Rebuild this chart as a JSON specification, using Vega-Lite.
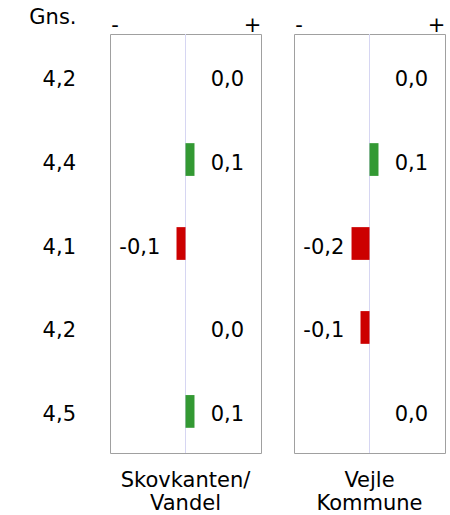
{
  "$schema": "https://vega.github.io/schema/vega-lite/v6.json",
  "padding": {"left": 0, "top": 6, "right": 0, "bottom": 0},
  "background": "white",
  "datasets": {
    "rows": [
      {"group": "Skovkanten/Vandel", "q": 1, "gns": "4,2", "value": 0.0, "label": "0,0"},
      {"group": "Skovkanten/Vandel", "q": 2, "gns": "4,4", "value": 0.1, "label": "0,1"},
      {"group": "Skovkanten/Vandel", "q": 3, "gns": "4,1", "value": -0.1, "label": "-0,1"},
      {"group": "Skovkanten/Vandel", "q": 4, "gns": "4,2", "value": 0.0, "label": "0,0"},
      {"group": "Skovkanten/Vandel", "q": 5, "gns": "4,5", "value": 0.1, "label": "0,1"},
      {"group": "Vejle Kommune", "q": 1, "gns": "4,2", "value": 0.0, "label": "0,0"},
      {"group": "Vejle Kommune", "q": 2, "gns": "4,4", "value": 0.1, "label": "0,1"},
      {"group": "Vejle Kommune", "q": 3, "gns": "4,1", "value": -0.2, "label": "-0,2"},
      {"group": "Vejle Kommune", "q": 4, "gns": "4,2", "value": -0.1, "label": "-0,1"},
      {"group": "Vejle Kommune", "q": 5, "gns": "4,5", "value": 0.0, "label": "0,0"}
    ]
  },
  "data": {"name": "rows"},
  "spacing": 31,
  "config": {
    "view": {"stroke": null},
    "font": "DejaVu Sans",
    "axis": {"ticks": false, "domain": false, "grid": false, "labelFont": "DejaVu Sans", "labelFontSize": 21, "labelColor": "#000000", "titleFont": "DejaVu Sans", "titleFontSize": 21, "titleFontWeight": "normal", "titleColor": "#000000"},
    "text": {"font": "DejaVu Sans", "fontSize": 21, "color": "#000000"}
  },
  "hconcat": [
    {
      "width": 78,
      "height": 419,
      "transform": [{"filter": "datum.group === 'Skovkanten/Vandel'"}],
      "mark": {"type": "text", "align": "right", "baseline": "middle", "dy": 4, "dx": -2},
      "encoding": {
        "y": {"field": "q", "type": "ordinal", "scale": {"paddingInner": 0.61, "paddingOuter": 0.3}, "axis": null},
        "x": {"datum": 1, "type": "quantitative", "scale": {"domain": [0, 1], "nice": false},
              "axis": {"orient": "top", "labels": false, "title": "Gns.", "titleAlign": "right", "titleAnchor": "end", "titleX": 76, "titleY": -11, "titleBaseline": "alphabetic", "titleAngle": 0}},
        "text": {"field": "gns"}
      }
    },
    {
      "width": 151,
      "height": 419,
      "view": {"stroke": "#a0a0a0"},
      "transform": [{"filter": "datum.group === 'Skovkanten/Vandel'"}],
      "title": {"text": ["Skovkanten/\u00a0", "Vandel"], "orient": "bottom", "anchor": "middle", "fontSize": 21, "font": "DejaVu Sans", "fontWeight": "normal", "baseline": "top", "offset": 16, "lineHeight": 23, "color": "#000000"},
      "layer": [
        {
          "transform": [{"filter": "datum.q === 1"}],
          "mark": {"type": "rule", "color": "#d6d6f2", "strokeWidth": 1},
          "encoding": {
            "x": {"datum": 0, "type": "quantitative", "scale": {"domain": [-0.84, 0.84], "nice": false},
                  "axis": {"orient": "top", "values": [-0.79, 0.74], "labelExpr": "datum.value < 0 ? '-' : '+'", "labelBaseline": "alphabetic", "labelPadding": 3, "labelFlush": false, "labelOverlap": false, "title": null}}
          }
        },
        {
          "mark": {"type": "bar"},
          "encoding": {
            "y": {"field": "q", "type": "ordinal", "scale": {"paddingInner": 0.61, "paddingOuter": 0.3}, "axis": null},
            "x": {"field": "value", "type": "quantitative", "scale": {"domain": [-0.84, 0.84], "nice": false},
                  "axis": {"orient": "top", "values": [-0.79, 0.74], "labelExpr": "datum.value < 0 ? '-' : '+'", "labelBaseline": "alphabetic", "labelPadding": 3, "labelFlush": false, "labelOverlap": false, "title": null}},
            "color": {"condition": {"test": "datum.value < 0", "value": "#cc0000"}, "value": "#339933"}
          }
        },
        {
          "transform": [{"filter": "datum.value >= 0"}],
          "mark": {"type": "text", "align": "left", "baseline": "middle", "dy": 4},
          "encoding": {
            "y": {"field": "q", "type": "ordinal", "scale": {"paddingInner": 0.61, "paddingOuter": 0.3}, "axis": null},
            "x": {"datum": 0.28, "type": "quantitative", "scale": {"domain": [-0.84, 0.84], "nice": false}},
            "text": {"field": "label"}
          }
        },
        {
          "transform": [{"filter": "datum.value < 0"}],
          "mark": {"type": "text", "align": "right", "baseline": "middle", "dy": 4},
          "encoding": {
            "y": {"field": "q", "type": "ordinal", "scale": {"paddingInner": 0.61, "paddingOuter": 0.3}, "axis": null},
            "x": {"datum": -0.28, "type": "quantitative", "scale": {"domain": [-0.84, 0.84], "nice": false}},
            "text": {"field": "label"}
          }
        }
      ]
    },
    {
      "width": 151,
      "height": 419,
      "view": {"stroke": "#a0a0a0"},
      "transform": [{"filter": "datum.group === 'Vejle Kommune'"}],
      "title": {"text": ["Vejle\u00a0", "Kommune"], "orient": "bottom", "anchor": "middle", "fontSize": 21, "font": "DejaVu Sans", "fontWeight": "normal", "baseline": "top", "offset": 16, "lineHeight": 23, "color": "#000000"},
      "layer": [
        {
          "transform": [{"filter": "datum.q === 1"}],
          "mark": {"type": "rule", "color": "#d6d6f2", "strokeWidth": 1},
          "encoding": {
            "x": {"datum": 0, "type": "quantitative", "scale": {"domain": [-0.84, 0.84], "nice": false},
                  "axis": {"orient": "top", "values": [-0.79, 0.74], "labelExpr": "datum.value < 0 ? '-' : '+'", "labelBaseline": "alphabetic", "labelPadding": 3, "labelFlush": false, "labelOverlap": false, "title": null}}
          }
        },
        {
          "mark": {"type": "bar"},
          "encoding": {
            "y": {"field": "q", "type": "ordinal", "scale": {"paddingInner": 0.61, "paddingOuter": 0.3}, "axis": null},
            "x": {"field": "value", "type": "quantitative", "scale": {"domain": [-0.84, 0.84], "nice": false},
                  "axis": {"orient": "top", "values": [-0.79, 0.74], "labelExpr": "datum.value < 0 ? '-' : '+'", "labelBaseline": "alphabetic", "labelPadding": 3, "labelFlush": false, "labelOverlap": false, "title": null}},
            "color": {"condition": {"test": "datum.value < 0", "value": "#cc0000"}, "value": "#339933"}
          }
        },
        {
          "transform": [{"filter": "datum.value >= 0"}],
          "mark": {"type": "text", "align": "left", "baseline": "middle", "dy": 4},
          "encoding": {
            "y": {"field": "q", "type": "ordinal", "scale": {"paddingInner": 0.61, "paddingOuter": 0.3}, "axis": null},
            "x": {"datum": 0.28, "type": "quantitative", "scale": {"domain": [-0.84, 0.84], "nice": false}},
            "text": {"field": "label"}
          }
        },
        {
          "transform": [{"filter": "datum.value < 0"}],
          "mark": {"type": "text", "align": "right", "baseline": "middle", "dy": 4},
          "encoding": {
            "y": {"field": "q", "type": "ordinal", "scale": {"paddingInner": 0.61, "paddingOuter": 0.3}, "axis": null},
            "x": {"datum": -0.28, "type": "quantitative", "scale": {"domain": [-0.84, 0.84], "nice": false}},
            "text": {"field": "label"}
          }
        }
      ]
    }
  ]
}
